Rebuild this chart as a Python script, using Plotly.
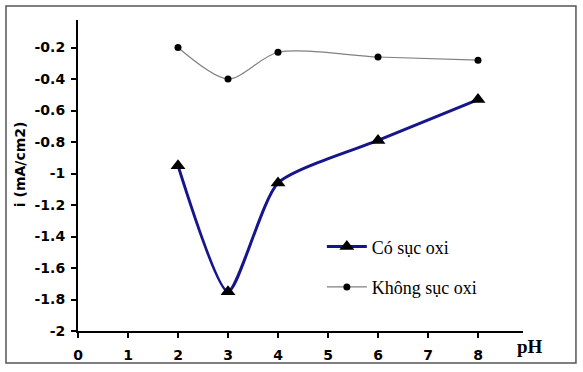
import plotly.graph_objects as go

ph = [2, 3, 4, 6, 8]
co_suc_oxi = [-0.95, -1.75, -1.06, -0.79, -0.53]
khong_suc_oxi = [-0.20, -0.40, -0.23, -0.26, -0.28]
x_ticks = [0, 1, 2, 3, 4, 5, 6, 7, 8]
y_ticks = [-2, -1.8, -1.6, -1.4, -1.2, -1, -0.8, -0.6, -0.4, -0.2]
y_tick_text = ["-2", "-1.8", "-1.6", "-1.4", "-1.2", "-1", "-0.8", "-0.6", "-0.4", "-0.2"]

fig = go.Figure()
fig.add_trace(go.Scatter(
    x=ph, y=co_suc_oxi, name="Có sục oxi", mode="lines+markers", legendgroup="a",
    line=dict(color="#16168c", width=3, shape="spline", smoothing=0.6),
    marker=dict(symbol="triangle-up", size=13, color="black"),
))
fig.add_trace(go.Scatter(
    x=ph, y=khong_suc_oxi, name="Không sục oxi", mode="lines+markers", legendgroup="b",
    line=dict(color="#808080", width=1.2, shape="spline", smoothing=0.8),
    marker=dict(symbol="circle", size=7, color="black"),
))

axis_font = dict(family="DejaVu Sans", size=14, color="black", weight="bold")
fig.update_layout(
    width=583, height=372,
    margin=dict(l=78, r=60, t=20, b=41, autoexpand=False),
    paper_bgcolor="white", plot_bgcolor="white",
    showlegend=True,
    legend=dict(x=0.548, y=0.33, xanchor="left", yanchor="top",
                font=dict(family="Liberation Serif, Times New Roman", size=18, color="black"),
                bgcolor="rgba(0,0,0,0)", tracegroupgap=14, itemwidth=40),
    xaxis=dict(range=[0, 8.9], tickvals=x_ticks, ticktext=[str(v) for v in x_ticks],
               showgrid=False, zeroline=False, automargin=False,
               showline=True, linecolor="black", linewidth=2,
               ticks="outside", ticklen=5, tickwidth=2, tickcolor="black",
               tickfont=axis_font, ticklabelstandoff=5),
    yaxis=dict(range=[-2, -0.025], tickvals=y_ticks, ticktext=y_tick_text,
               showgrid=False, zeroline=False, automargin=False,
               showline=True, linecolor="black", linewidth=2,
               ticks="outside", ticklen=5, tickwidth=2, tickcolor="black",
               tickfont=axis_font, ticklabelstandoff=3),
    shapes=[dict(type="rect", xref="paper", yref="paper",
                 x0=-0.1618, x1=1.119, y0=-0.103, y1=1.045,
                 line=dict(color="#555555", width=1.5), fillcolor="rgba(0,0,0,0)")],
    annotations=[
        dict(text="<b>pH</b>", xref="paper", yref="paper", x=0.982, y=-0.05,
             xanchor="left", yanchor="middle", showarrow=False,
             font=dict(family="Liberation Serif, Times New Roman", size=19, color="black")),
        dict(text="<b>i (mA/cm2)</b>", xref="paper", yref="paper", x=-0.13, y=0.537,
             xanchor="center", yanchor="middle", showarrow=False, textangle=-90,
             font=dict(family="DejaVu Sans", size=14, color="black")),
    ],
)
fig.write_html("out.html", config={"displayModeBar": False},
               post_script="document.body.style.margin='0';document.body.style.overflow='hidden';")
